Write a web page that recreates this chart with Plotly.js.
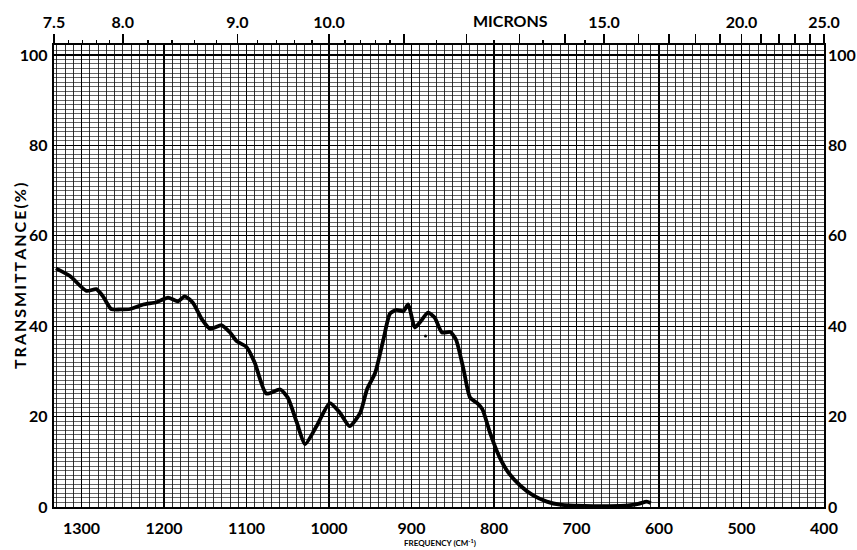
<!DOCTYPE html>
<html>
<head>
<meta charset="utf-8">
<script src="https://cdn.plot.ly/plotly-3.0.1.min.js"></script>
<style>html,body{margin:0;padding:0;background:#fff;}#chart{width:857px;height:550px;}</style>
</head>
<body>
<div id="chart"></div>
<script>
// Frequency (cm^-1) and transmittance (%)
const wavenumber = [1331,1314,1294,1282,1274,1264,1253,1241,1225,1209,1195,1183,1175,1165,1154,1144,1130,1120,1112,1100,1090,1076,1059,1050,1039,1029,1015,999,987,975,962,954,944,934,926,918,910,904,896,890,880,872,863,853,846,837,829,820,814,805,794,783,768,752,736,720,700,680,660,640,625,615,610];
const transmittance = [52.8,51.1,47.8,48.2,46.6,43.8,43.7,43.8,44.8,45.3,46.3,45.5,46.6,45.2,41.5,39.4,40.2,38.6,36.7,35.4,31.9,25.1,26.0,24.2,18.7,13.9,17.9,23.0,20.9,17.9,20.9,26.0,29.7,37.1,42.8,43.6,43.3,44.8,39.7,40.8,43.0,41.9,38.6,38.7,37.0,30.5,24.2,22.9,21.6,16.5,11.3,7.7,4.7,2.5,1.2,0.5,0.3,0.2,0.2,0.3,0.7,1.2,0.9];
const specX = [883];
const specY = [37.8];

// Bottom axis ticks (cm^-1)
const freqTicks = [1300,1200,1100,1000,900,800,700,600,500,400];
// Left/right axis ticks (%)
const pctTicks = [0,20,40,60,80,100];
// Top (micron) axis
const micronLabeled = [7.5,8,9,10,15,20,25];
const micronLabels = ['7.5','8.0','9.0','10.0','15.0','20.0','25.0'];
const micronLong = [11,12,13,14,16,17,18,19,21,22,23,24];
const micronMinor = [7.6,7.7,7.8,7.9,8.2,8.4,8.6,8.8,9.2,9.4,9.6,9.8,10.2,10.4,10.6,10.8,11.5,12.5,13.5,14.5];

const xRange = [10000/7.5, 400];
const yRange = [0, 102.2];
const FONT = 'Lato, "DejaVu Sans", sans-serif';
const yTitle = 'TRANSMITTANCE(%)'.split('').join('\u2009');

const dummy = (xa, ya) => ({x:[1000], y:[-50], xaxis:xa, yaxis:ya, mode:'lines', hoverinfo:'skip', showlegend:false});
const traces = [
  {x: wavenumber, y: transmittance, type:'scatter', mode:'lines',
   line:{color:'#000', width:3.8, shape:'spline', smoothing:0.6}, hoverinfo:'skip', showlegend:false},
  {x: specX, y: specY, type:'scatter', mode:'markers',
   marker:{color:'#000', size:3}, hoverinfo:'skip', showlegend:false},
  dummy('x2','y2'), dummy('x3','y'), dummy('x4','y')
];

const topAxis = (vals, len, extra) => Object.assign({
  overlaying:'x', side:'top', range:xRange, tickmode:'array',
  tickvals: vals.map(m => 10000/m),
  ticks:'outside', ticklen:len, tickwidth:1.6, tickcolor:'#000',
  showgrid:false, zeroline:false, showline:false, showticklabels:false
}, extra || {});

const layout = {
  width:857, height:550,
  margin:{l:54, r:33, t:45, b:43},
  paper_bgcolor:'#fff', plot_bgcolor:'#fff',
  font:{family:FONT, color:'#000', size:16, weight:700},
  showlegend:false,
  xaxis:{
    range:xRange, tickmode:'array', tickvals:freqTicks, ticktext:freqTicks.map(String),
    ticks:'', ticklabelstandoff:6,
    tickfont:{family:FONT, size:16, weight:700, color:'#000'},
    showgrid:true, gridcolor:'#000', gridwidth:1.1,
    minor:{dtick:10, tick0:0, showgrid:true, gridcolor:'#000', gridwidth:0.8},
    showline:true, linecolor:'#000', linewidth:2.2, mirror:true, zeroline:false
  },
  xaxis2: topAxis(micronLabeled, 10, {showticklabels:true, ticktext:micronLabels,
    tickfont:{family:FONT, size:16, weight:700, color:'#000'}}),
  xaxis3: topAxis(micronLong, 10),
  xaxis4: topAxis(micronMinor, 4, {tickwidth:1.4}),
  yaxis:{
    range:yRange, tickmode:'array', tickvals:pctTicks, ticktext:pctTicks.map(String),
    ticks:'', ticklabelstandoff:1,
    tickfont:{family:FONT, size:16, weight:700, color:'#000'},
    showgrid:true, gridcolor:'#000', gridwidth:1.2,
    minor:{dtick:1, tick0:0, showgrid:true, gridcolor:'#111', gridwidth:0.65},
    showline:true, linecolor:'#000', linewidth:2.2, mirror:true, zeroline:false
  },
  yaxis2:{
    overlaying:'y', side:'right', range:yRange, tickmode:'array', tickvals:pctTicks, ticktext:pctTicks.map(String),
    ticks:'', ticklabelstandoff:3,
    tickfont:{family:FONT, size:16, weight:700, color:'#000'},
    showgrid:false, zeroline:false, showline:false
  },
  annotations:[
    {text: yTitle, xref:'paper', yref:'paper', x:(19-54)/770, y:0.5, xanchor:'center', yanchor:'middle',
     textangle:-90, showarrow:false, font:{family:FONT, size:16, weight:700, color:'#000'}},
    {text:'MICRONS', xref:'paper', yref:'paper', x:(510-54)/770, y:1, yshift:25, xanchor:'center', yanchor:'middle',
     showarrow:false, font:{family:FONT, size:16, weight:700, color:'#000'}},
    {text:'FREQUENCY (CM<sup>-1</sup>)', xref:'paper', yref:'paper', x:(440-54)/770, y:0, yshift:-35, xanchor:'center', yanchor:'middle',
     showarrow:false, font:{family:FONT, size:8, weight:700, color:'#000'}}
  ]
};

Plotly.newPlot('chart', traces, layout, {staticPlot:true, displayModeBar:false});
</script>
</body>
</html>
